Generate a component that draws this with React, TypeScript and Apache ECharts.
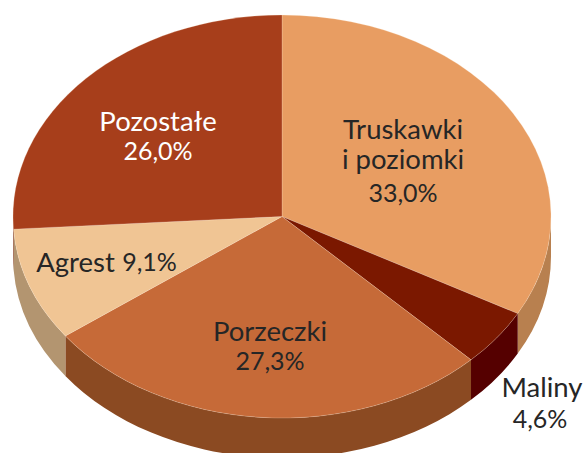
import React, { useEffect, useRef } from "react";
import * as echarts from "echarts";

// Data
const categories = ["Truskawki\ni poziomki", "Maliny", "Porzeczki", "Agrest", "Pozostałe"];
const shares = [33.0, 4.6, 27.3, 9.1, 26.0];

// Styles
const topColors = ["#E89D62", "#7B1800", "#C66A38", "#F0C594", "#A73E1B"];
const sideColors = ["#B8804F", "#550000", "#8B4A22", "#B39570", "#7F2F14"];
const textColors = ["#262626", "#262626", "#262626", "#262626", "#FFFFFF"];

// Geometry of the tilted pie
const CX = 282;
const CY = 216.5;
const RX = 269;
const RY = 201.5;
const DEPTH = 40;

// Label positions: [name x, name y, value x, value y]
const labelAnchors = [
  [403, 143, 403, 192],
  [542, 386.5, 540, 418],
  [270, 330, 270, 360],
  [75.5, 261, 149.5, 261],
  [158, 120, 158, 150],
];

const total = shares.reduce((a, b) => a + b, 0);
const pt = (deg: number, dy = 0): [number, number] => {
  const r = (deg * Math.PI) / 180;
  return [CX + RX * Math.sin(r), CY - RY * Math.cos(r) + dy];
};
const startDeg = (i: number) => (shares.slice(0, i).reduce((a, b) => a + b, 0) / total) * 360;
const endDeg = (i: number) => startDeg(i) + (shares[i] / total) * 360;

const arc = (a: number, b: number, dy: number) => {
  const [x, y] = pt(b, dy);
  const large = Math.abs(b - a) > 180 ? 1 : 0;
  const sweep = b > a ? 1 : 0;
  return `A${RX} ${RY} 0 ${large} ${sweep} ${x} ${y}`;
};

const topPath = (i: number) => {
  const a = startDeg(i);
  const b = endDeg(i);
  const [x, y] = pt(a);
  return `M${CX} ${CY}L${x} ${y}${arc(a, b, 0)}Z`;
};

const sidePath = (i: number) => {
  const a = Math.max(startDeg(i), 90);
  const b = Math.min(endDeg(i), 270);
  if (b <= a) return null;
  const [x0, y0] = pt(a);
  const [x1, y1] = pt(b, DEPTH);
  return `M${x0} ${y0}${arc(a, b, 0)}L${x1} ${y1}${arc(b, a, DEPTH)}Z`;
};

const formatShare = (v: number) => v.toFixed(1).replace(".", ",") + "%";

const App = () => {
  const ref = useRef<HTMLDivElement>(null);
  useEffect(() => {
    document.body.style.margin = "0";
    const chart = echarts.init(ref.current!, null, { renderer: "svg" });
    const rows = shares.map((v, i) => [i, v]);
    const textEl = (t: string, x: number, y: number, fill: string, size: number) => ({
      type: "text",
      x,
      y,
      style: {
        text: t,
        fill,
        fontFamily: "Lato, Carlito, sans-serif",
        fontSize: size,
        lineHeight: t.includes("\n") ? 30 : size,
        align: "center",
        verticalAlign: "middle",
      },
    });
    chart.setOption({
      animation: false,
      backgroundColor: "#ffffff",
      series: [
        {
          type: "custom",
          name: "side",
          coordinateSystem: "none",
          silent: true,
          z: 1,
          data: rows,
          renderItem: (_: any, api: any) => {
            const i = api.value(0);
            const d = sidePath(i);
            if (!d) return { type: "group", children: [] };
            return { type: "path", shape: { pathData: d }, style: { fill: sideColors[i] } };
          },
        },
        {
          type: "custom",
          name: "top",
          coordinateSystem: "none",
          silent: true,
          z: 2,
          data: rows,
          renderItem: (_: any, api: any) => {
            const i = api.value(0);
            return {
              type: "path",
              shape: { pathData: topPath(i) },
              style: { fill: topColors[i], stroke: "rgba(255,235,215,0.3)", lineWidth: 0.75 },
            };
          },
        },
        {
          type: "custom",
          name: "labels",
          coordinateSystem: "none",
          silent: true,
          z: 3,
          data: rows,
          renderItem: (_: any, api: any) => {
            const i = api.value(0);
            const [nx, ny, vx, vy] = labelAnchors[i];
            const c = textColors[i];
            return {
              type: "group",
              children: [
                textEl(categories[i], nx, ny, c, 27.5),
                textEl(formatShare(api.value(1)), vx, vy, c, 25),
              ],
            };
          },
        },
      ],
    });
    return () => chart.dispose();
  }, []);
  return <div ref={ref} style={{ position: "fixed", left: 0, top: 0, width: 585, height: 453 }} />;
};

export default App;
